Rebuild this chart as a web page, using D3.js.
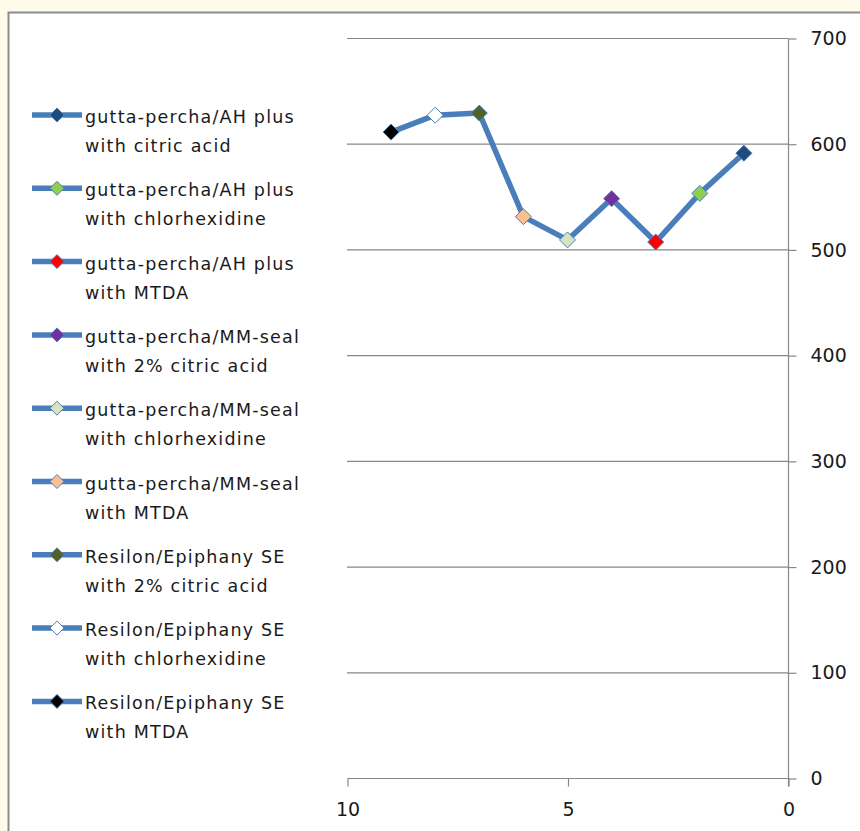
<!DOCTYPE html>
<html>
<head>
<meta charset="utf-8">
<script src="https://cdn.jsdelivr.net/npm/d3@7"></script>
<style>
  html, body { margin: 0; padding: 0; background: #fffbea; }
  text { font-family: "DejaVu Sans", sans-serif; fill: #1a1a1a; }
</style>
</head>
<body>
<svg id="chart" width="860" height="831"></svg>
<script>
// Series (legend order), one point each
const seriesNames = [
  ["gutta-percha/AH plus", "with citric acid"],
  ["gutta-percha/AH plus", "with chlorhexidine"],
  ["gutta-percha/AH plus", "with MTDA"],
  ["gutta-percha/MM-seal", "with 2% citric acid"],
  ["gutta-percha/MM-seal", "with chlorhexidine"],
  ["gutta-percha/MM-seal", "with MTDA"],
  ["Resilon/Epiphany SE", "with 2% citric acid"],
  ["Resilon/Epiphany SE", "with chlorhexidine"],
  ["Resilon/Epiphany SE", "with MTDA"]
];
const xValues = [1, 2, 3, 4, 5, 6, 7, 8, 9];
const yValues = [591, 553, 507, 548, 509, 531, 629, 627, 611];
const markerColors = ["#1f4a7e", "#8fcf4f", "#ff0000", "#7030a0", "#d7e4bd", "#fac090", "#4f6228", "#ffffff", "#000000"];
const yTicks = [0, 100, 200, 300, 400, 500, 600, 700];
const xTicks = [10, 5, 0];

const svg = d3.select("#chart");
const lineColor = "#4a7ebb";
const axisColor = "#878787";

// Chart frame
svg.append("rect")
    .attr("x", 8.5).attr("y", 12.5)
    .attr("width", 900).attr("height", 900)
    .attr("fill", "#fff")
    .attr("stroke", "#8c8c8c")
    .attr("stroke-width", 2);

const x = d3.scaleLinear().domain([10, 0]).range([347, 788]);
const y = d3.scaleLinear().domain([0, 700]).range([778, 38]);

// Gridlines
svg.append("g").selectAll("line")
    .data(yTicks.filter(d => d > 0))
    .enter().append("line")
    .attr("x1", x(10)).attr("x2", x(0))
    .attr("y1", d => y(d) + 0.5).attr("y2", d => y(d) + 0.5)
    .attr("stroke", axisColor).attr("stroke-width", 1.2);

// Y axis on the right
const yAxis = d3.axisRight(y).tickValues(yTicks).tickSize(8).tickPadding(14);
const gy = svg.append("g")
    .attr("transform", `translate(${x(0) + 0.5},0.5)`)
    .call(yAxis);
gy.select(".domain").attr("d", `M0,${y(700)}V${y(0) + 8}`).attr("stroke", axisColor).attr("stroke-width", 1.2);
gy.selectAll(".tick line").attr("stroke", axisColor).attr("stroke-width", 1.2);
gy.selectAll(".tick text")
    .attr("font-family", "DejaVu Sans, sans-serif")
    .attr("font-size", 19)
    .attr("fill", "#1a1a1a");

// X axis at bottom
const xAxis = d3.axisBottom(x).tickValues(xTicks).tickSize(8).tickPadding(16);
const gx = svg.append("g")
    .attr("transform", `translate(0.5,${y(0) + 0.5})`)
    .call(xAxis);
gx.select(".domain").attr("d", `M${x(10)},0H${x(0)}`).attr("stroke", axisColor).attr("stroke-width", 1.2);
gx.selectAll(".tick line").attr("stroke", axisColor).attr("stroke-width", 1.2);
gx.selectAll(".tick text")
    .attr("font-family", "DejaVu Sans, sans-serif")
    .attr("font-size", 19)
    .attr("fill", "#1a1a1a");

// Data
const points = xValues.map((v, i) => ({ x: v, y: yValues[i], color: markerColors[i] }));
const sorted = points.slice().sort((a, b) => a.x - b.x);

const line = d3.line().x(d => x(d.x)).y(d => y(d.y));
svg.append("path")
    .datum(sorted)
    .attr("d", line)
    .attr("fill", "none")
    .attr("stroke", lineColor)
    .attr("stroke-width", 5.5)
    .attr("stroke-linejoin", "round");

const diamond = r => `M0,${-r}L${r},0L0,${r}L${-r},0Z`;

svg.append("g").selectAll("path")
    .data(points)
    .enter().append("path")
    .attr("transform", d => `translate(${x(d.x)},${y(d.y)})`)
    .attr("d", diamond(8))
    .attr("fill", d => d.color)
    .attr("stroke", lineColor)
    .attr("stroke-width", 1);

// Legend
const legend = svg.append("g");
const items = legend.selectAll("g")
    .data(seriesNames)
    .enter().append("g")
    .attr("transform", (d, i) => `translate(0,${115 + i * 73.3})`);

items.append("line")
    .attr("x1", 32).attr("x2", 82)
    .attr("stroke", lineColor).attr("stroke-width", 5.5);

items.append("path")
    .attr("transform", "translate(57,0)")
    .attr("d", diamond(7))
    .attr("fill", (d, i) => markerColors[i])
    .attr("stroke", lineColor)
    .attr("stroke-width", 1);

items.append("text")
    .attr("x", 85).attr("y", 8)
    .attr("font-size", 17.5)
    .attr("letter-spacing", 1.2)
    .text(d => d[0]);

items.append("text")
    .attr("x", 85).attr("y", 37)
    .attr("font-size", 17.5)
    .attr("letter-spacing", 1.2)
    .text(d => d[1]);
</script>
</body>
</html>
